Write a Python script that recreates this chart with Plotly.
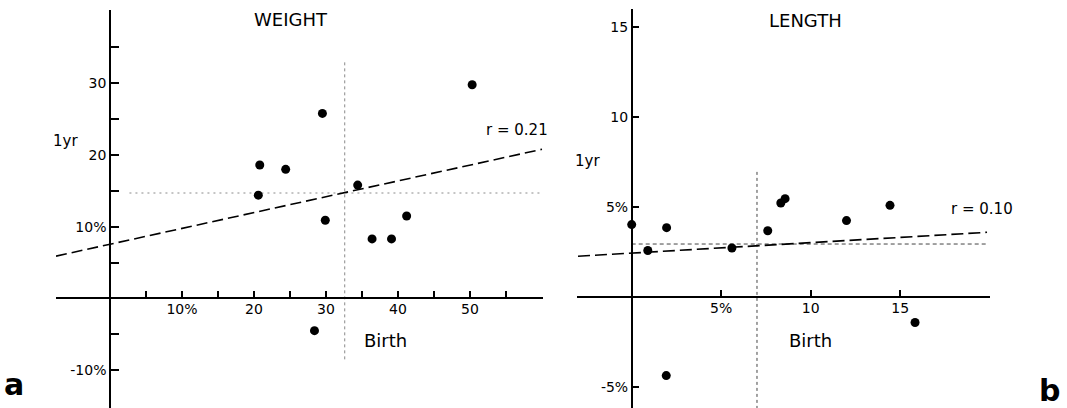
import plotly.graph_objects as go

# ---------------- data ----------------
weight_birth = [20.8, 20.6, 24.4, 29.5, 29.9, 28.4, 34.4, 36.4, 39.1, 41.2, 50.3]
weight_1yr = [18.6, 14.4, 18.0, 25.8, 10.9, -4.5, 15.8, 8.3, 8.3, 11.5, 29.8]
weight_fit_x = [-7.5, 60.0]
weight_fit_y = [5.9, 20.8]
weight_mean_birth = 32.6
weight_mean_1yr = 14.7
weight_vline_y = [-8.5, 33.0]
weight_hline_x = [2.7, 60.0]

length_birth = [0.0, 0.9, 1.95, 1.93, 5.6, 7.6, 8.33, 8.57, 12.0, 14.43, 15.83]
length_1yr = [4.04, 2.6, 3.87, -4.35, 2.74, 3.7, 5.24, 5.48, 4.26, 5.11, -1.4]
length_fit_x = [-3.0, 19.85]
length_fit_y = [2.28, 3.61]
length_mean_birth = 7.0
length_mean_1yr = 2.96
length_vline_y = [-6.2, 7.0]
length_hline_x = [0.0, 19.8]

# tick values / labels
w_xticks = [5, 10, 15, 20, 25, 30, 35, 40, 45, 50, 55]
w_xlabels = ["", "10%", "", "20", "", "30", "", "40", "", "50", ""]
w_yticks = [-10, -5, 5, 10, 15, 20, 25, 30, 35]
w_ylabels = ["-10%", "", "", "10%", "", "20", "", "30", ""]
l_xticks = [5, 10, 15]
l_xlabels = ["5%", "10", "15"]
l_yticks = [-5, 5, 10, 15]
l_ylabels = ["-5%", "5%", "10", "15"]

W, H = 1067, 408
FONT = "DejaVu Sans"

fig = go.Figure()

# ---------- left panel (WEIGHT) ----------
fig.add_trace(go.Scatter(x=[weight_mean_birth, weight_mean_birth], y=weight_vline_y,
                         mode="lines", line=dict(color="#8a8a8a", width=1, dash="3px,3px"),
                         xaxis="x", yaxis="y", hoverinfo="skip"))
fig.add_trace(go.Scatter(x=weight_hline_x, y=[weight_mean_1yr, weight_mean_1yr],
                         mode="lines", line=dict(color="#8a8a8a", width=1, dash="2px,4px"),
                         xaxis="x", yaxis="y", hoverinfo="skip"))
fig.add_trace(go.Scatter(x=weight_fit_x, y=weight_fit_y, mode="lines",
                         line=dict(color="black", width=1.6, dash="11px,5px"),
                         xaxis="x", yaxis="y"))
fig.add_trace(go.Scatter(x=weight_birth, y=weight_1yr, mode="markers",
                         marker=dict(color="black", size=9),
                         xaxis="x", yaxis="y"))

# ---------- right panel (LENGTH) ----------
fig.add_trace(go.Scatter(x=[length_mean_birth, length_mean_birth], y=length_vline_y,
                         mode="lines", line=dict(color="#444", width=1, dash="3px,3px"),
                         xaxis="x2", yaxis="y2", hoverinfo="skip"))
fig.add_trace(go.Scatter(x=length_hline_x, y=[length_mean_1yr, length_mean_1yr],
                         mode="lines", line=dict(color="#444", width=1, dash="4px,3px"),
                         xaxis="x2", yaxis="y2", hoverinfo="skip"))
fig.add_trace(go.Scatter(x=length_fit_x, y=length_fit_y, mode="lines",
                         line=dict(color="black", width=1.6, dash="12px,5px"),
                         xaxis="x2", yaxis="y2"))
fig.add_trace(go.Scatter(x=length_birth, y=length_1yr, mode="markers",
                         marker=dict(color="black", size=9),
                         xaxis="x2", yaxis="y2"))

tickfont = dict(family=FONT, size=14, color="black")
common = dict(showgrid=False, zeroline=False, showline=True, linecolor="black",
              linewidth=1.5, ticks="inside", tickcolor="black", tickwidth=1.5,
              tickfont=tickfont, tickmode="array", fixedrange=True)

# left panel geometry (pixels)
lx0, lx1 = 56.0, 543.0
lorig_x, lorig_y = 110.0, 298.4
lxs = 7.2
lys = 7.17
ltop = 10.0

rx0, rx1 = 577.1, 989.7
rorig_x, rorig_y = 631.7, 297.3
rxs = 17.9
rys = 18.0
rtop = 9.3

fig.update_layout(
    width=W, height=H,
    margin=dict(l=0, r=0, t=0, b=0),
    paper_bgcolor="white", plot_bgcolor="rgba(0,0,0,0)",
    showlegend=False,
    xaxis=dict(domain=[lx0 / W, lx1 / W],
               range=[(lx0 - lorig_x) / lxs, (lx1 - lorig_x) / lxs],
               anchor="free", position=(H - lorig_y) / H,
               tickvals=w_xticks, ticktext=w_xlabels, ticklen=7,
               ticklabelstandoff=-2, **common),
    yaxis=dict(domain=[0, (H - ltop) / H],
               range=[(lorig_y - H) / lys, (lorig_y - ltop) / lys],
               anchor="free", position=lorig_x / W,
               tickvals=w_yticks, ticktext=w_ylabels, ticklen=8, **common),
    xaxis2=dict(domain=[rx0 / W, rx1 / W],
                range=[(rx0 - rorig_x) / rxs, (rx1 - rorig_x) / rxs],
                anchor="free", position=(H - rorig_y) / H,
                tickvals=l_xticks, ticktext=l_xlabels, ticklen=7,
                ticklabelstandoff=-2, **common),
    yaxis2=dict(domain=[0, (H - rtop) / H],
                range=[(rorig_y - H) / rys, (rorig_y - rtop) / rys],
                anchor="free", position=rorig_x / W,
                tickvals=l_yticks, ticktext=l_ylabels, ticklen=7, **common),
)


def ann(text, px, py, size, bold=False):
    fig.add_annotation(text=("<b>%s</b>" % text) if bold else text,
                       x=px / W, y=1 - py / H, xref="paper", yref="paper",
                       showarrow=False, xanchor="center", yanchor="middle",
                       font=dict(family=FONT, size=size, color="black"))


ann("WEIGHT", 291, 19, 18)
ann("LENGTH", 805, 20, 18)
ann("1yr", 65, 141, 15)
ann("1yr", 587, 161, 15)
ann("r = 0.21", 517, 130, 15)
ann("r = 0.10", 982, 209, 15)
ann("Birth", 385, 340, 18)
ann("Birth", 810, 340, 18)
ann("a", 14, 384, 30, bold=True)
ann("b", 1049, 390, 30, bold=True)

fig.write_html("out.html",
               config={"displayModeBar": False},
               post_script="document.body.style.margin='0px';"
                           "document.body.style.overflow='hidden';")
